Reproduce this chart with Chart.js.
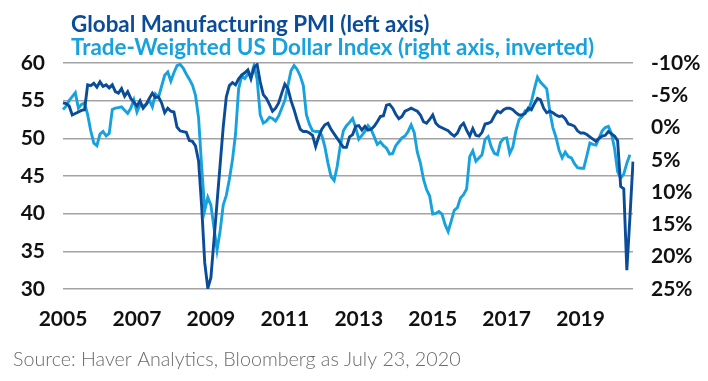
<!DOCTYPE html>
<html>
<head>
<meta charset="utf-8">
<script src="https://cdn.jsdelivr.net/npm/chart.js@4.4.1/dist/chart.umd.min.js"></script>
<style>
  html, body { margin: 0; padding: 0; background: #fff; }
  #wrap { width: 708px; height: 381px; position: relative; }
</style>
</head>
<body>
<div id="wrap"><canvas id="pmiChart" width="708" height="381"></canvas></div>
<script>
// Monthly data, Jan 2005 - Jun 2020
const startYear = 2005;
const tickYears = ['2005', '2007', '2009', '2011', '2013', '2015', '2017', '2019'];

// Global Manufacturing PMI (left axis)
const pmiValues = [
    54.7, 54.6, 54.3, 53.1, 53.3, 53.5, 53.7, 53.8, 57.1, 57.0, 57.3, 56.8, // 2005
    57.5, 56.9, 57.1, 56.7, 57.1, 56.2, 56.0, 56.6, 55.6, 56.2, 55.3, 54.8, // 2006
    54.3, 55.0, 54.0, 54.5, 55.3, 56.0, 55.4, 55.5, 54.7, 53.4, 54.0, 53.6, // 2007
    53.5, 51.5, 51.0, 50.9, 50.8, 49.7, 49.6, 49.0, 47.0, 41.0, 33.5, 30.1, // 2008
    31.5, 36.5, 41.5, 46.5, 51.5, 55.5, 57.0, 57.4, 57.1, 57.9, 58.4, 58.7, // 2009
    59.1, 57.9, 59.4, 59.8, 57.5, 55.8, 55.3, 54.5, 53.6, 54.0, 54.7, 56.0, // 2010
    57.2, 56.6, 55.0, 53.8, 52.4, 51.2, 50.9, 50.9, 50.7, 50.4, 48.9, 50.2, // 2011
    51.2, 51.8, 52.0, 51.2, 50.6, 50.0, 49.4, 48.8, 48.8, 50.2, 50.5, 51.6, // 2012
    51.7, 51.1, 51.6, 51.1, 51.2, 51.6, 52.2, 52.9, 53.0, 54.4, 54.5, 54.0, // 2013
    53.2, 52.6, 52.9, 53.6, 53.8, 54.0, 53.8, 53.6, 53.1, 52.2, 52.0, 52.5, // 2014
    53.1, 52.0, 51.6, 51.4, 51.2, 51.0, 50.6, 50.3, 50.7, 51.6, 52.0, 51.1, // 2015
    50.3, 51.3, 50.4, 50.3, 50.8, 51.9, 52.0, 52.2, 53.0, 53.6, 53.4, 53.8, // 2016
    54.0, 54.0, 53.8, 53.4, 53.1, 53.1, 53.3, 54.0, 53.8, 54.6, 55.3, 55.1, // 2017
    54.0, 53.4, 53.6, 53.4, 53.1, 52.9, 53.0, 52.6, 51.9, 51.8, 51.6, 51.0, // 2018
    50.7, 50.7, 50.5, 50.2, 49.9, 49.6, 50.0, 50.3, 50.4, 50.9, 50.6, 50.3, // 2019
    49.7, 43.6, 43.3, 32.5, 39.5, 46.9                                      // 2020
];

// Trade-weighted US dollar index, % change (right axis, inverted)
const usdValues = [
    -2.8, -3.3, -4.2, -4.8, -5.4, -3.0, -3.6, -3.8, -2.0, 0.5, 2.4, 2.8,   // 2005
    1.0, 0.6, 1.3, 0.9, -2.8, -3.0, -3.1, -3.2, -2.7, -2.2, -3.0, -4.3,    // 2006
    -2.4, -3.5, -3.3, -3.6, -4.2, -3.2, -5.2, -4.7, -6.4, -8.1, -8.6, -7.2, // 2007
    -8.5, -9.6, -9.8, -9.2, -8.3, -7.5, -6.6, -5.0, -1.5, 6.0, 12.8, 10.8,  // 2008
    12.0, 15.5, 19.0, 16.0, 12.0, 10.5, 8.0, 5.0, 1.0, -6.0, -8.0, -7.6,    // 2009
    -8.3, -8.0, -9.6, -7.5, -2.0, -0.7, -1.0, -1.6, -1.4, -1.0, -1.8, -3.0, // 2010
    -4.2, -6.5, -8.8, -9.6, -9.0, -8.0, -6.5, -2.0, -0.5, 0.5, 0.6, 0.6,   // 2011
    1.2, 3.0, 5.5, 7.6, 8.2, 6.0, 2.8, 0.5, -0.3, -0.8, -1.4, 0.0,         // 2012
    1.8, 1.2, 0.6, -0.3, 0.3, 1.4, 2.6, 2.2, 2.8, 3.2, 4.1, 4.0,           // 2013
    2.8, 2.2, 1.6, 1.3, 0.6, -0.4, 0.8, 3.8, 5.5, 8.0, 9.6, 10.6,          // 2014
    13.4, 13.3, 13.0, 13.4, 15.0, 16.1, 14.5, 12.8, 12.4, 10.9, 10.4, 9.5, // 2015
    4.5, 3.6, 5.2, 4.7, 4.2, 1.8, 1.4, 3.0, 4.0, 4.2, 2.3, 1.7,            // 2016
    1.6, 4.0, 3.0, 0.5, -1.2, -1.7, -2.6, -2.6, -4.0, -6.0, -7.8, -7.0,    // 2017
    -6.5, -6.0, -2.5, 0.0, 1.5, 3.5, 4.7, 3.8, 4.5, 4.7, 5.6, 6.2,         // 2018
    6.3, 6.3, 4.4, 2.4, 2.6, 2.7, 1.6, 0.5, 0.0, -0.2, 0.9, 3.2,           // 2019
    6.8, 7.8, 7.2, 5.5, 4.2                                                // 2020
];

const titleLines = [
    'Global Manufacturing PMI (left axis)',
    'Trade-Weighted US Dollar Index (right axis, inverted)'
];
const sourceNote = 'Source: Haver Analytics, Bloomberg as July 23, 2020';

const darkBlue = '#0b4c98';
const lightBlue = '#17a2de';

// one label per month, "YYYY-MM"
const monthLabels = pmiValues.map((_, i) => {
    const y = startYear + Math.floor(i / 12);
    const m = (i % 12) + 1;
    return y + '-' + String(m).padStart(2, '0');
});

const textPlugin = {
    id: 'notes',
    afterDraw(chart) {
        const ctx = chart.ctx;
        ctx.save();
        ctx.textAlign = 'left';
        ctx.textBaseline = 'alphabetic';
        ctx.font = 'bold 22.4px Lato';
        ctx.fillStyle = darkBlue;
        ctx.fillText(titleLines[0], 71, 32);
        ctx.fillStyle = lightBlue;
        ctx.fillText(titleLines[1], 71, 55);
        ctx.font = '300 19.7px Lato';
        ctx.fillStyle = '#6b6b6b';
        ctx.fillText(sourceNote, 13, 366);
        ctx.restore();
    }
};

const tickFont = { family: 'Lato', size: 21, weight: 'bold' };

new Chart(document.getElementById('pmiChart').getContext('2d'), {
    type: 'line',
    data: {
        labels: monthLabels,
        datasets: [
            {
                label: titleLines[0],
                data: pmiValues,
                yAxisID: 'yLeft',
                borderColor: darkBlue,
                borderWidth: 2.9,
                pointRadius: 0,
                tension: 0,
                order: 0,
            },
            {
                label: titleLines[1],
                data: usdValues,
                yAxisID: 'yRight',
                borderColor: lightBlue,
                borderWidth: 2.9,
                pointRadius: 0,
                tension: 0,
                order: 1,
            },
        ],
    },
    options: {
        responsive: false,
        animation: false,
        layout: { padding: { top: 63, left: 0, right: 0, bottom: 0 } },
        plugins: {
            legend: { display: false },
            tooltip: { enabled: false },
        },
        scales: {
            x: {
                type: 'category',
                grid: { display: false },
                border: { display: false },
                afterFit(scale) { scale.height = 92; },
                ticks: {
                    autoSkip: false,
                    maxRotation: 0,
                    padding: 10,
                    color: '#111',
                    font: tickFont,
                    callback(value, index) {
                        const lab = monthLabels[index];
                        const yr = lab.slice(0, 4);
                        return (lab.endsWith('-01') && tickYears.includes(yr)) ? yr : '';
                    },
                },
            },
            yLeft: {
                position: 'left',
                min: 30,
                max: 60,
                afterFit(scale) { scale.width = 63; },
                grid: { color: '#a3a3a3', lineWidth: 1.5, drawTicks: false },
                border: { display: false },
                ticks: { stepSize: 5, padding: 18, color: '#111', font: tickFont },
            },
            yRight: {
                position: 'right',
                min: -10,
                max: 25,
                reverse: true,
                afterFit(scale) { scale.width = 75; },
                grid: { display: false, drawTicks: false },
                border: { display: false },
                ticks: {
                    stepSize: 5,
                    padding: 18,
                    color: '#111',
                    font: tickFont,
                    callback: (v) => v + '%',
                },
            },
        },
    },
    plugins: [textPlugin],
});
</script>
</body>
</html>
